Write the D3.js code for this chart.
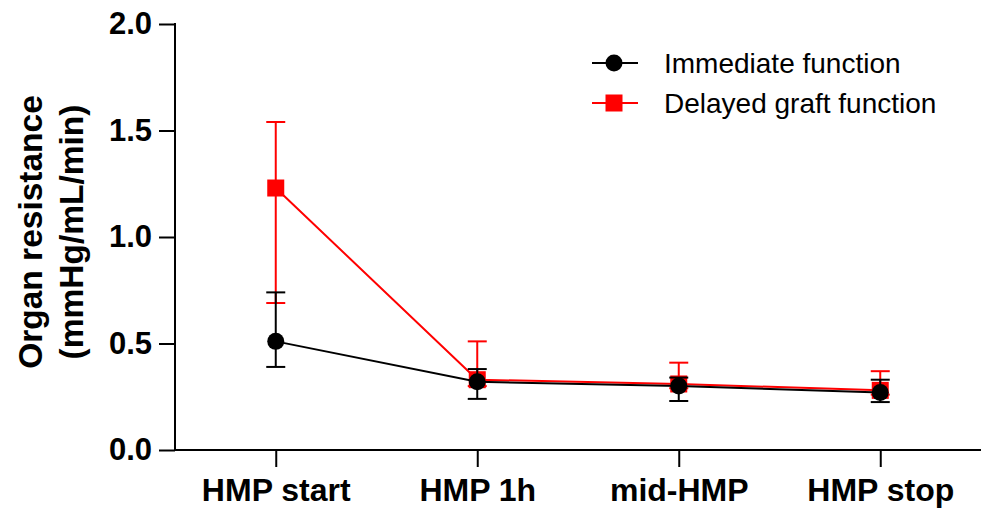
<!DOCTYPE html>
<html>
<head>
<meta charset="utf-8">
<script src="https://cdn.jsdelivr.net/npm/d3@7"></script>
<style>
  body { margin: 0; background: #fff; }
  text { font-family: "Liberation Sans", Arial, sans-serif; }
</style>
</head>
<body>
<div id="chart"></div>
<script>
const svgWidth = 981;
const svgHeight = 508;

// data
const categories = ['HMP start', 'HMP 1h', 'mid-HMP', 'HMP stop'];
const immediateMean = [0.51, 0.32, 0.30, 0.27];
const immediateLow = [0.39, 0.24, 0.23, 0.225];
const immediateHigh = [0.74, 0.38, 0.34, 0.33];
const delayedMean = [1.23, 0.33, 0.31, 0.28];
const delayedLow = [0.69, 0.30, 0.29, 0.26];
const delayedHigh = [1.54, 0.51, 0.41, 0.37];
const yTicks = [0, 0.5, 1.0, 1.5, 2.0];
const seriesNames = ['Immediate function', 'Delayed graft function'];

const svg = d3.select('#chart').append('svg')
  .attr('width', svgWidth).attr('height', svgHeight);

const xScale = d3.scalePoint().domain(categories).range([175, 981]).padding(0.5);
const yScale = d3.scaleLinear().domain([0, 2]).range([450, 24]);

// axes
const yAxis = svg.append('g')
  .attr('transform', 'translate(175,0)')
  .call(d3.axisLeft(yScale).tickValues(yTicks).tickFormat(d3.format('.1f')).tickSize(16).tickSizeOuter(0).tickPadding(7));
yAxis.select('.domain').attr('stroke-width', 2).attr('d', 'M0,451V23');
yAxis.selectAll('.tick line').attr('stroke-width', 2);
yAxis.selectAll('.tick text')
  .style('font-size', '31px').style('font-weight', 'bold').attr('fill', '#000');

const xAxis = svg.append('g')
  .attr('transform', 'translate(0,450)')
  .call(d3.axisBottom(xScale).tickSize(17).tickSizeOuter(0).tickPadding(11));
xAxis.select('.domain').attr('stroke-width', 2).attr('d', 'M174,0H981');
xAxis.selectAll('.tick line').attr('stroke-width', 2);
xAxis.selectAll('.tick text')
  .style('font-size', '32px').style('font-weight', 'bold').attr('fill', '#000');

// y-axis title
const yTitle = svg.append('g').attr('transform', 'translate(0,232) rotate(-90)');
yTitle.append('text').attr('x', 0).attr('y', 42).attr('text-anchor', 'middle')
  .style('font-size', '33.5px').style('font-weight', 'bold').text('Organ resistance');
yTitle.append('text').attr('x', 0).attr('y', 83).attr('text-anchor', 'middle')
  .style('font-size', '33.5px').style('font-weight', 'bold').text('(mmHg/mL/min)');

const series = [
  { name: seriesNames[1], mean: delayedMean, lo: delayedLow, hi: delayedHigh, color: '#ff0000', shape: 'square' },
  { name: seriesNames[0], mean: immediateMean, lo: immediateLow, hi: immediateHigh, color: '#000000', shape: 'circle' },
];

const line = d3.line().x((d, i) => xScale(categories[i])).y(d => yScale(d));
const capW = 9.5;

series.forEach(s => {
  const g = svg.append('g');
  g.append('path').datum(s.mean).attr('d', line)
    .attr('fill', 'none').attr('stroke', s.color).attr('stroke-width', 2);

  categories.forEach((c, i) => {
    const x = xScale(c);
    g.append('line').attr('x1', x).attr('x2', x)
      .attr('y1', yScale(s.lo[i])).attr('y2', yScale(s.hi[i]))
      .attr('stroke', s.color).attr('stroke-width', 2);
    [s.lo[i], s.hi[i]].forEach(v => {
      g.append('line').attr('x1', x - capW).attr('x2', x + capW)
        .attr('y1', yScale(v)).attr('y2', yScale(v))
        .attr('stroke', s.color).attr('stroke-width', 2);
    });
    if (s.shape === 'circle') {
      g.append('circle').attr('cx', x).attr('cy', yScale(s.mean[i])).attr('r', 8.5).attr('fill', s.color);
    } else {
      g.append('rect').attr('x', x - 8.5).attr('y', yScale(s.mean[i]) - 8.5)
        .attr('width', 17).attr('height', 17).attr('fill', s.color);
    }
  });
});

// legend
const legendItems = [
  { name: seriesNames[0], color: '#000000', shape: 'circle', y: 63 },
  { name: seriesNames[1], color: '#ff0000', shape: 'square', y: 103 },
];
legendItems.forEach(l => {
  const g = svg.append('g');
  g.append('line').attr('x1', 592).attr('x2', 638).attr('y1', l.y).attr('y2', l.y)
    .attr('stroke', l.color).attr('stroke-width', 2);
  if (l.shape === 'circle') {
    g.append('circle').attr('cx', 614).attr('cy', l.y).attr('r', 8.5).attr('fill', l.color);
  } else {
    g.append('rect').attr('x', 605.5).attr('y', l.y - 8.5).attr('width', 17).attr('height', 17).attr('fill', l.color);
  }
  g.append('text').attr('x', 664).attr('y', l.y + 10)
    .style('font-size', '28px').attr('fill', '#000').text(l.name);
});
</script>
</body>
</html>
